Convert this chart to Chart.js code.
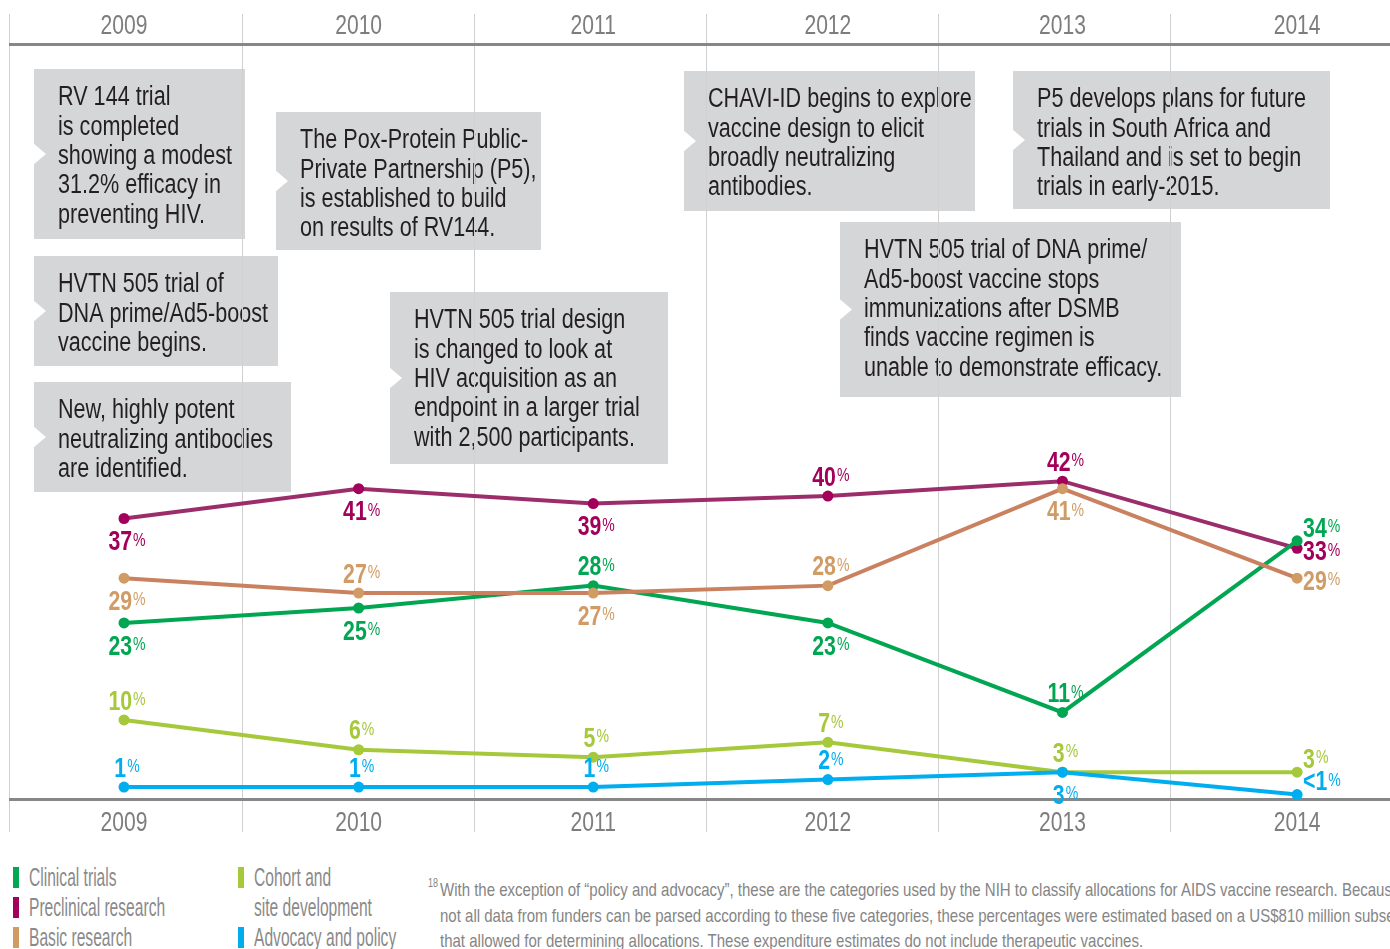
<!DOCTYPE html>
<html>
<head>
<meta charset="utf-8">
<script src="https://cdn.jsdelivr.net/npm/chart.js@4.4.1/dist/chart.umd.min.js"></script>
<style>
  html, body { margin: 0; padding: 0; background: #fff; overflow: hidden; }
  #page { position: relative; width: 1390px; height: 949px; overflow: hidden; }
  #chartBox { position: absolute; left: 0; top: 0; width: 1390px; height: 845px; }
  .legend { position: absolute; top: 862px; font-family: "Liberation Sans", Arial, sans-serif; font-size: 26px; color: #8a8a8a; line-height: 30px; }
  .legend .item { position: relative; padding-left: 16px; white-space: nowrap; }
  .legend .sw { position: absolute; left: 0; top: 5px; width: 6px; height: 21px; }
  .legend .txt { display: inline-block; transform: scaleX(0.6); transform-origin: 0 0; }
  #footnote { position: absolute; left: 428px; top: 877px; font-family: "Liberation Sans", Arial, sans-serif; font-size: 19px; color: #858585; line-height: 25.5px; white-space: nowrap; }
  #footnote .sup { position: absolute; left: 0; top: -6px; font-size: 12px; transform: scaleX(0.75); transform-origin: 0 0; }
  #footnote .txt { position: absolute; left: 12px; top: 0; transform: scaleX(0.79); transform-origin: 0 0; }
</style>
</head>
<body>
<div id="page">
  <div id="chartBox"><canvas id="timeline"></canvas></div>
  <div class="legend" id="legendCol1" style="left:13px"></div>
  <div class="legend" id="legendCol2" style="left:238px"></div>
  <div id="footnote">
    <span class="sup">18</span>
    <div class="txt">
      <div>With the exception of “policy and advocacy”, these are the categories used by the NIH to classify allocations for AIDS vaccine research. Because</div>
      <div>not all data from funders can be parsed according to these five categories, these percentages were estimated based on a US$810 million subset</div>
      <div>that allowed for determining allocations. These expenditure estimates do not include therapeutic vaccines.</div>
    </div>
  </div>
</div>
<script>
// ----------------------
// Data
// ----------------------
const years = [2009, 2010, 2011, 2012, 2013, 2014];
const clinicalTrials = [23, 25, 28, 23, 11, 34];
const preclinicalResearch = [37, 41, 39, 40, 42, 33];
const basicResearch = [29, 27, 27, 28, 41, 29];
const cohortSiteDevelopment = [10, 6, 5, 7, 3, 3];
const advocacyPolicy = [1, 1, 1, 2, 3, 0]; // 2014 shown as "<1"

const seriesNames = ['Clinical trials', 'Preclinical research', 'Basic research', 'Cohort and\nsite development', 'Advocacy and policy'];

// where each value label sits relative to its point
const clinicalLabelPos = ['below', 'below', 'above', 'below', 'above', 'rightUp'];
const preclinicalLabelPos = ['below', 'below', 'below', 'above', 'above', 'right'];
const basicLabelPos = ['below', 'above', 'below', 'above', 'below', 'right'];
const cohortLabelPos = ['above', 'above', 'above', 'above', 'above', 'rightUp'];
const advocacyLabelPos = ['above', 'above', 'above', 'above', 'below', 'rightUp'];

// Event callouts (pixel boxes on the canvas)
const callouts = [
  { x: 34, y: 69, w: 211, h: 170, lines: ['RV 144 trial', 'is completed', 'showing a modest', '31.2% efficacy in', 'preventing HIV.'] },
  { x: 276, y: 112, w: 265, h: 138, lines: ['The Pox-Protein Public-', 'Private Partnership (P5),', 'is established to build', 'on results of RV144.'] },
  { x: 34, y: 256, w: 244, h: 110, lines: ['HVTN 505 trial of', 'DNA prime/Ad5-boost', 'vaccine begins.'] },
  { x: 34, y: 382, w: 257, h: 110, lines: ['New, highly potent', 'neutralizing antibodies', 'are identified.'] },
  { x: 390, y: 292, w: 278, h: 172, lines: ['HVTN 505 trial design', 'is changed to look at', 'HIV acquisition as an', 'endpoint in a larger trial', 'with 2,500 participants.'] },
  { x: 684, y: 71, w: 291, h: 140, lines: ['CHAVI-ID begins to explore', 'vaccine design to elicit', 'broadly neutralizing', 'antibodies.'] },
  { x: 1013, y: 71, w: 317, h: 138, lines: ['P5 develops plans for future', 'trials in South Africa and', 'Thailand and is set to begin', 'trials in early-2015.'] },
  { x: 840, y: 222, w: 341, h: 175, lines: ['HVTN 505 trial of DNA prime/', 'Ad5-boost vaccine stops', 'immunizations after DSMB', 'finds vaccine regimen is', 'unable to demonstrate efficacy.'] },
];

// Colors
const colors = {
  clinical: '#00A651',
  preclinicalLine: '#9C2D6B',
  preclinical: '#A2005B',
  basicLine: '#C98160',
  basic: '#D19B65',
  cohort: '#A5C93A',
  advocacy: '#00AEEF',
  grid: '#d0d0d0',
  axis: '#878787',
  tick: '#7d7d7d',
  box: '#D5D6D8',
  boxText: '#231F20',
};

const FONT = '"Liberation Sans", Arial, sans-serif';

// draw horizontally condensed text (no narrow face is installed)
function condensedText(ctx, text, x, y, font, sx, align) {
  ctx.save();
  ctx.font = font;
  ctx.textBaseline = 'middle';
  ctx.textAlign = align || 'left';
  ctx.translate(x, y);
  ctx.scale(sx, 1);
  ctx.fillText(text, 0, 0);
  ctx.restore();
}
function condensedWidth(ctx, text, font, sx) {
  ctx.save();
  ctx.font = font;
  const w = ctx.measureText(text).width * sx;
  ctx.restore();
  return w;
}

// ----------------------
// Legend (HTML)
// ----------------------
const legendColors = [colors.clinical, colors.preclinical, colors.basic, colors.cohort, colors.advocacy];
function legendItem(name, color) {
  const d = document.createElement('div');
  d.className = 'item';
  d.innerHTML = '<span class="sw" style="background:' + color + '"></span><span class="txt">' + name.replace('\n', '<br>') + '</span>';
  return d;
}
[0, 1, 2].forEach((i) => document.getElementById('legendCol1').appendChild(legendItem(seriesNames[i], legendColors[i])));
[3, 4].forEach((i) => document.getElementById('legendCol2').appendChild(legendItem(seriesNames[i], legendColors[i])));

// ----------------------
// Plugins
// ----------------------
const calloutPlugin = {
  id: 'callouts',
  beforeDraw(chart) {
    const ctx = chart.ctx;
    ctx.save();
    callouts.forEach((c) => {
      ctx.fillStyle = colors.box;
      ctx.fillRect(c.x, c.y, c.w, c.h);
      // white notch on the left edge
      const cy = c.y + c.h / 2;
      ctx.fillStyle = '#ffffff';
      ctx.beginPath();
      ctx.moveTo(c.x - 1, cy - 11);
      ctx.lineTo(c.x + 12, cy);
      ctx.lineTo(c.x - 1, cy + 11);
      ctx.closePath();
      ctx.fill();
      ctx.fillStyle = colors.boxText;
      c.lines.forEach((line, i) => {
        condensedText(ctx, line, c.x + 24, c.y + 29 + i * 29.3, '27px ' + FONT, 0.8);
      });
    });
    ctx.restore();
  },
};

const yearLabelPlugin = {
  id: 'yearLabels',
  afterDraw(chart) {
    const ctx = chart.ctx;
    const xs = chart.scales.x;
    ctx.save();
    ctx.fillStyle = colors.tick;
    years.forEach((yr) => {
      const px = xs.getPixelForValue(yr);
      condensedText(ctx, String(yr), px, 27, '27px ' + FONT, 0.78, 'center');
      condensedText(ctx, String(yr), px, 824, '27px ' + FONT, 0.78, 'center');
    });
    ctx.restore();
  },
};

const valueLabelPlugin = {
  id: 'valueLabels',
  afterDatasetsDraw(chart) {
    const ctx = chart.ctx;
    const numFont = 'bold 28px ' + FONT;
    const pctFont = '19px ' + FONT;
    chart.data.datasets.forEach((ds, di) => {
      const meta = chart.getDatasetMeta(di);
      meta.data.forEach((pt, i) => {
        const v = ds.data[i];
        const num = v < 1 ? '<1' : String(v);
        const pos = ds.labelPos[i];
        const wNum = condensedWidth(ctx, num, numFont, 0.76);
        const wPct = condensedWidth(ctx, '%', pctFont, 0.74);
        const total = wNum + 1 + wPct;
        let x0 = pt.x - total / 2 + 3;
        let y = pt.y + 2;
        if (pos === 'above') y -= 20;
        else if (pos === 'below') y += 22;
        else if (pos === 'right') { x0 = pt.x + 6; y += 2; }
        else if (pos === 'rightUp') { x0 = pt.x + 6; y -= 14; }
        ctx.fillStyle = ds.labelColor;
        condensedText(ctx, num, x0, y, numFont, 0.76);
        condensedText(ctx, '%', x0 + wNum + 1, y - 2, pctFont, 0.74);
      });
    });
  },
};

// ----------------------
// Chart
// ----------------------
function series(label, values, lineColor, pointColor, labelPos) {
  return {
    label: label,
    data: values,
    borderColor: lineColor,
    backgroundColor: pointColor,
    pointBackgroundColor: pointColor,
    pointBorderColor: pointColor,
    pointRadius: 5.5,
    pointBorderWidth: 0,
    borderWidth: 4,
    tension: 0,
    clip: false,
    labelColor: pointColor,
    labelPos: labelPos,
  };
}

function yearTicks(scale) {
  scale.ticks = years.map((y) => ({ value: y }));
}

// year columns of the background grid (slightly narrower than the point spacing)
function columnAxis(position, height, tickLength, onArea) {
  return {
    type: 'linear',
    position: position,
    min: 2008.5,
    max: 2014.448,
    afterBuildTicks: yearTicks,
    afterFit: (s) => { s.height = height; },
    grid: { offset: true, color: colors.grid, lineWidth: 1, drawOnChartArea: onArea, drawTicks: true, tickLength: tickLength, tickColor: colors.grid },
    border: { display: true, color: colors.axis, width: 3 },
    ticks: { display: false },
  };
}

const ctx = document.getElementById('timeline');
const chart = new Chart(ctx, {
  type: 'line',
  data: {
    labels: years,
    datasets: [
      series('Advocacy and policy', advocacyPolicy, colors.advocacy, colors.advocacy, advocacyLabelPos),
      series('Cohort and site development', cohortSiteDevelopment, colors.cohort, colors.cohort, cohortLabelPos),
      series('Basic research', basicResearch, colors.basicLine, colors.basic, basicLabelPos),
      series('Clinical trials', clinicalTrials, colors.clinical, colors.clinical, clinicalLabelPos),
      series('Preclinical research', preclinicalResearch, colors.preclinicalLine, colors.preclinical, preclinicalLabelPos),
    ],
  },
  options: {
    responsive: true,
    maintainAspectRatio: false,
    animation: false,
    layout: { autoPadding: false, padding: { left: 10, right: 0, top: 0, bottom: 0 } },
    plugins: {
      legend: { display: false },
      tooltip: { enabled: false },
    },
    scales: {
      // data axis, hidden; year labels are drawn from it by yearLabelPlugin
      x: {
        type: 'linear',
        display: false,
        min: 2008.514,
        max: 2014.396,
      },
      gridBottom: columnAxis('bottom', 46, 33, true),
      gridTop: columnAxis('top', 44, 30, false),
      y: {
        display: false,
        min: -0.6,
        max: 100.6,
      },
    },
  },
  plugins: [calloutPlugin, valueLabelPlugin, yearLabelPlugin],
});
</script>
</body>
</html>
